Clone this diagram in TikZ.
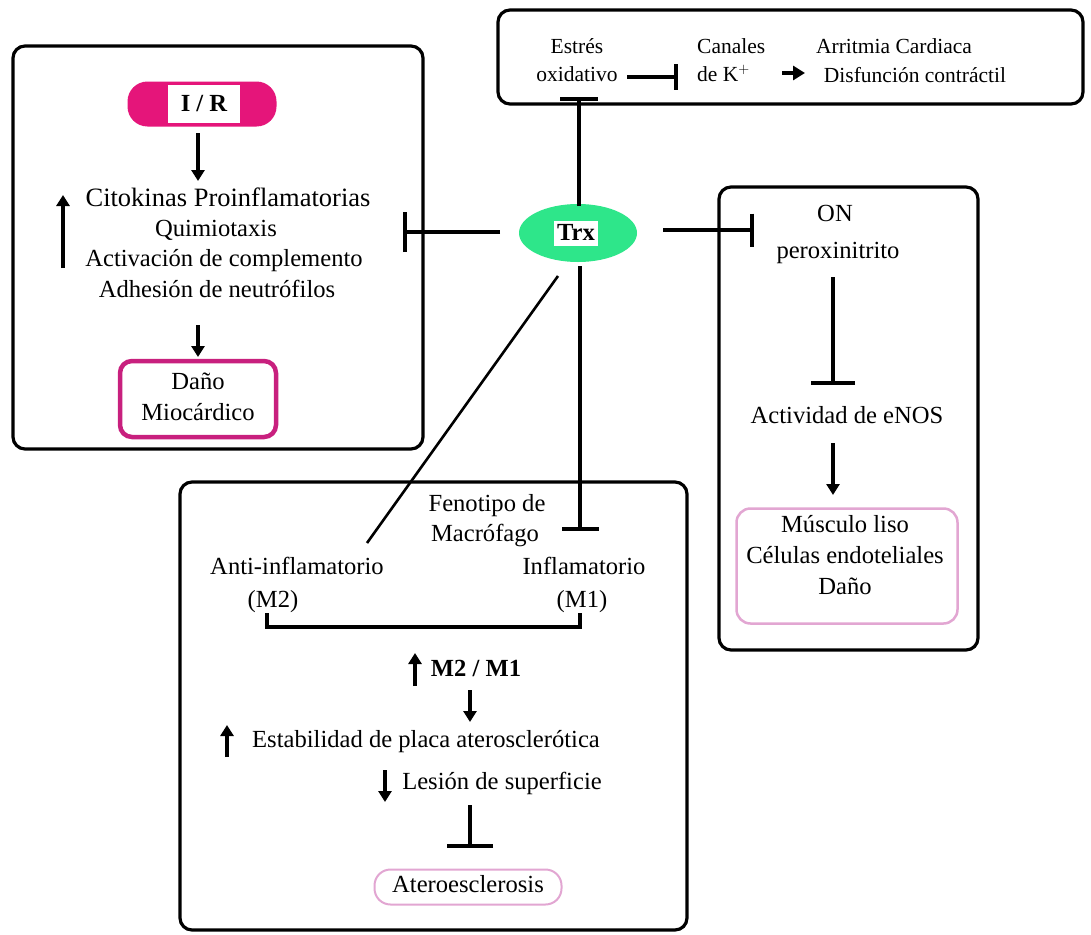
\documentclass[tikz,border=0pt]{standalone}
\usepackage{fontspec}
\setmainfont{Liberation Serif}
\usetikzlibrary{arrows.meta,shapes.geometric}
\definecolor{irpink}{HTML}{E5157A}
\definecolor{dmpink}{HTML}{C8207E}
\definecolor{lpink}{HTML}{E2A6D2}
\definecolor{trxgreen}{HTML}{2EE68A}
\newcommand{\bigf}{\fontsize{24.6}{28}\selectfont}
\newcommand{\topf}{\fontsize{21.5}{24}\selectfont}
\begin{document}
\begin{tikzpicture}[x=1pt,y=-1pt,
  box/.style={draw, line width=3.2pt, rounded corners=12pt},
  txt/.style={font=\bigf, inner sep=0pt, align=center, text height=17pt, text depth=5pt},
  ttxt/.style={font=\topf, inner sep=0pt, align=center, text height=15pt, text depth=4pt},
  arr/.style={-{Triangle[length=11pt,width=13pt]}, line width=3.4pt},
  inhibit/.style={-{Bar[width=#1,line width=3.6pt]}, line width=3.4pt},
]
\useasboundingbox[fill=white] (0,0) rectangle (1091,934);

% ---------- boxes ----------
\draw[box] (13,46) rectangle (423,449);
\draw[box] (498,10) rectangle (1083,104);
\draw[box] (719,187) rectangle (978,650);
\draw[box] (180,482) rectangle (687,930);

% ---------- left panel ----------
\node[fill=irpink, rounded corners=20pt, minimum width=149pt, minimum height=45pt, inner sep=0pt] (irpill) at (202,104) {};
\node[fill=white, minimum width=72pt, minimum height=38pt, inner sep=0pt, font=\bigf\bfseries] (ir) at (204,104) {I / R};
\node[txt, font=\fontsize{26.5}{30}\selectfont] (cito) at (228,200) {Citokinas Proinflamatorias};
\node[txt] (quim) at (216,230) {Quimiotaxis};
\node[txt] (activ) at (224,260) {Activación de complemento};
\node[txt] (adh) at (217,291) {Adhesión de neutrófilos};
\node[draw=dmpink, line width=4.5pt, rounded corners=12pt, minimum width=156pt, minimum height=76pt, inner sep=0pt] (danobox) at (198,399) {};
\node[txt] (dano1) at (198,383) {Daño};
\node[txt] (dano2) at (198,414) {Miocárdico};
\coordinate (upA) at (63,268); \coordinate (upB) at (63,195);
\draw[arr] (upA) -- (upB);
\coordinate (a1) at (198,133); \coordinate (a2) at (198,181);
\draw[arr] (a1) -- (a2);
\coordinate (d1) at (198,325); \coordinate (d2) at (198,357);
\draw[arr] (d1) -- (d2);

% ---------- Trx ----------
\node[ellipse, fill=trxgreen, minimum width=118pt, minimum height=58pt, inner sep=0pt] (trx) at (578,233) {};
\node[fill=white, inner sep=3pt, font=\bigf\bfseries, text height=17pt, text depth=2pt] (trxl) at (576,233) {Trx};

\coordinate (tl1) at (500,232); \coordinate (tl2) at (403,232);
\draw[inhibit=40pt] (tl1) -- (tl2);

% ---------- top panel ----------
\node[ttxt] (estres) at (577,48) {Estrés};
\node[ttxt] (oxid) at (577,76) {oxidativo};
\node[ttxt, anchor=west] (canales) at (697,48) {Canales};
\node[ttxt, anchor=west] (dek) at (697,76) {de K$^{+}$};
\node[ttxt] (arrit) at (894,48) {Arritmia Cardiaca};
\node[ttxt] (disf) at (915,77) {Disfunción contráctil};
\coordinate (o1) at (627,77); \coordinate (o2) at (678,77);
\draw[inhibit=26pt] (o1) -- (o2);
\coordinate (k1) at (782,73); \coordinate (k2) at (805,73);
\draw[-{Triangle[length=12pt,width=14pt]}, line width=3.6pt] (k1) -- (k2);
\coordinate (tu1) at (579,206); \coordinate (tu2) at (579,97);
\draw[inhibit=38pt] (tu1) -- (tu2);

% ---------- right panel ----------
\node[txt] (on) at (835,215) {ON};
\node[txt] (perox) at (838,252) {peroxinitrito};
\node[txt] (enos) at (847,417) {Actividad de eNOS};
\node[draw=lpink, line width=2.5pt, rounded corners=14pt, minimum width=221pt, minimum height=115pt, inner sep=0pt] (musbox) at (847,566) {};
\node[txt] (mus1) at (845,526) {Músculo liso};
\node[txt] (mus2) at (845,557) {Células endoteliales};
\node[txt] (mus3) at (845,588) {Daño};
\coordinate (r1) at (663,230); \coordinate (r2) at (754,230);
\draw[inhibit=33pt] (r1) -- (r2);
\coordinate (p1) at (833,277); \coordinate (p2) at (833,385);
\draw[inhibit=44pt] (p1) -- (p2);
\coordinate (e1) at (833,443); \coordinate (e2) at (833,495);
\draw[arr] (e1) -- (e2);

% ---------- bottom panel ----------
\node[txt] (feno1) at (487,505) {Fenotipo de};
\node[txt] (feno2) at (485,535) {Macrófago};
\node[txt] (anti) at (297,568) {Anti-inflamatorio};
\node[txt] (m2) at (273,601) {(M2)};
\node[txt] (infl) at (584,568) {Inflamatorio};
\node[txt] (m1) at (582,601) {(M1)};
\node[txt, font=\bigf\bfseries] (ratio) at (476,670) {M2 / M1};
\node[txt] (estab) at (426,741) {Estabilidad de placa aterosclerótica};
\node[txt] (lesion) at (502,783) {Lesión de superficie};
\node[draw=lpink, line width=2pt, rounded corners=16pt, minimum width=187pt, minimum height=35pt, inner sep=0pt] (ateroBox) at (468,887) {};
\node[txt] (atero) at (468,886) {Ateroesclerosis};

\coordinate (dg1) at (558,276); \coordinate (dg2) at (367,543);
\draw[line width=2.6pt] (dg1) -- (dg2);
\coordinate (tv1) at (580,266); \coordinate (tv2) at (580,531);
\draw[inhibit=37pt] (tv1) -- (tv2);

\draw[line width=3.2pt] (267,613) |- (580,627) -- (580,613);
\coordinate (u1) at (415,686); \coordinate (u2) at (415,653);
\draw[arr] (u1) -- (u2);
\coordinate (u3) at (470,690); \coordinate (u4) at (470,722);
\draw[arr] (u3) -- (u4);
\coordinate (u5) at (227,757); \coordinate (u6) at (227,725);
\draw[arr] (u5) -- (u6);
\coordinate (u7) at (385,770); \coordinate (u8) at (385,802);
\draw[arr] (u7) -- (u8);
\coordinate (i1) at (470,805); \coordinate (i2) at (470,848);
\draw[inhibit=46pt] (i1) -- (i2);
\end{tikzpicture}
\end{document}
